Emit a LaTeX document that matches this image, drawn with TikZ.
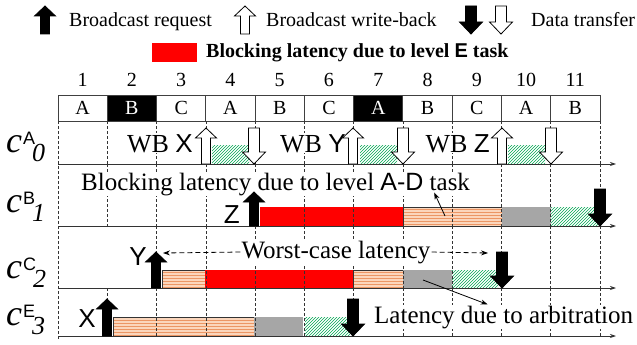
\documentclass[tikz,border=0pt]{standalone}
\usepackage{fontspec}
\setmainfont{Liberation Serif}
\setsansfont{Liberation Sans}
\usetikzlibrary{arrows.meta,patterns}
\definecolor{peach}{RGB}{251,214,188}
\definecolor{peachline}{RGB}{236,150,100}
\definecolor{hatchgreen}{RGB}{0,165,80}
\definecolor{arbgray}{RGB}{166,166,166}
\newcommand{\fsz}[1]{\fontsize{#1}{#1}\selectfont}
\newcommand{\rowlab}[2]{{\fsz{36}\itshape c}\kern1pt\raisebox{8pt}{\fsz{18}\sffamily #1}\kern-3pt\raisebox{-9pt}{\fsz{26}\itshape #2}}
\newcommand{\uparr}[4]{\draw[line width=0.8pt,#4] (#1-4.5,#3) -- (#1-4.5,#2+10) -- (#1-10.5,#2+10) -- (#1,#2) -- (#1+10.5,#2+10) -- (#1+4.5,#2+10) -- (#1+4.5,#3) -- cycle;}
\newcommand{\downarr}[4]{\draw[line width=0.8pt,#4] (#1-5.5,#2) -- (#1-5.5,#3-12) -- (#1-11.5,#3-12) -- (#1,#3) -- (#1+11.5,#3-12) -- (#1+5.5,#3-12) -- (#1+5.5,#2) -- cycle;}
\begin{document}
\begin{tikzpicture}[x=1pt,y=-1pt,
  cell/.style={draw=black!75, line width=0.8pt, minimum width=49.27pt, minimum height=26pt, inner sep=0pt, font=\fsz{20}},
  num/.style={inner sep=0pt, font=\fsz{20}},
  slotline/.style={black!80, line width=0.6pt, dash pattern=on 3pt off 2pt},
  timeline/.style={black!80, line width=0.8pt, -{Stealth[length=6pt,width=4pt]}},
  lbl/.style={anchor=base west, inner sep=1pt, fill=white, font=\fsz{25}},
  tagtxt/.style={anchor=base east, inner sep=1pt, font=\fsz{26}\sffamily},
  rowname/.style={anchor=base west, inner sep=0pt},
  redbar/.style={fill=red},
  graybar/.style={fill=arbgray},
  peachbar/.style={fill=peach, postaction={pattern=horizontal lines, pattern color=peachline}},
  greenbar/.style={pattern=north east lines, pattern color=hatchgreen},
  pointer/.style={line width=0.8pt, -{Stealth[length=7pt,width=5pt]}},
  wcarrow/.style={pointer, dash pattern=on 5pt off 3pt}]
\useasboundingbox (0,0) rectangle (637,345);
\uparr{45}{6}{34}{fill=black}
\node[lbl, font=\fsz{20}] (lreq) at (68,27) {Broadcast request};
\uparr{245}{6}{34}{fill=white}
\node[lbl, font=\fsz{20}] (lwb) at (265,27) {Broadcast write-back};
\downarr{471}{6}{34}{fill=black}
\downarr{501}{6}{34}{fill=white}
\node[lbl, font=\fsz{20}] (ldt) at (530,27) {Data transfer};
\fill[red] (152,43) rectangle (197,62);
\node[lbl, font=\fsz{20}\bfseries] (lblk) at (205,58) {Blocking latency due to level {\sffamily E} task};
\foreach \l/\f/\t [count=\i] in {A/white/black,B/black/white,C/white/black,A/white/black,B/white/black,C/white/black,A/black/white,B/white/black,C/white/black,A/white/black,B/white/black}{
  \node[num] (n\i) at ({58+49.27*(\i-0.5)},80) {\i};
  \node[cell, fill=\f, text=\t] (s\i) at ({58+49.27*(\i-0.5)},108) {\l};
}
\node[rowname] (c0) at (6,152) {\rowlab{A}{0}};
\node[rowname] (c1) at (6,212) {\rowlab{B}{1}};
\node[rowname] (c2) at (6,278) {\rowlab{C}{2}};
\node[rowname] (c3) at (6,325) {\rowlab{E}{3}};
\fill[greenbar] (212,145) rectangle (249,164);
\fill[greenbar] (360,145) rectangle (397,164);
\fill[greenbar] (508,145) rectangle (545,164);
\fill[redbar] (260,207) rectangle (403,226);
\fill[peachbar] (403,207) rectangle (502,226);
\draw[black!80, line width=0.8pt] (403,207) rectangle (502,226);
\fill[graybar] (502,207) rectangle (551,226);
\fill[greenbar] (551,207) rectangle (598,226);
\fill[peachbar] (162,270) rectangle (205,288);
\draw[black!80, line width=0.8pt] (162,270) rectangle (205,288);
\fill[redbar] (205,270) rectangle (353,288);
\fill[peachbar] (353,270) rectangle (403,288);
\draw[black!80, line width=0.8pt] (353,270) rectangle (403,288);
\fill[graybar] (403,270) rectangle (452,288);
\fill[greenbar] (452,270) rectangle (498,288);
\fill[peachbar] (113,317) rectangle (254,336);
\draw[black!80, line width=0.8pt] (113,317) rectangle (254,336);
\fill[graybar] (254,317) rectangle (303,336);
\fill[greenbar] (305,317) rectangle (350,336);
\foreach \t/\b/\s in {121/164/1,164/226/1,226/288/2,288/336/1}
  \foreach \k in {\s,...,11}
    \draw[slotline] ({58+49.27*\k},\t) -- ({58+49.27*\k},\b);
\draw[slotline] (58,121) -- (58,340);
\draw[timeline] (58,164) -- (616,164);
\draw[timeline] (58,226) -- (616,226);
\draw[timeline] (58,288) -- (616,288);
\draw[timeline] (58,336) -- (616,336);
\node[lbl, font=\fsz{26}, anchor=base east] (wbx) at (194,152) {WB {\sffamily X}};
\node[lbl, font=\fsz{26}, anchor=base east] (wby) at (347,152) {WB {\sffamily Y}};
\node[lbl, font=\fsz{26}, anchor=base east] (wbz) at (491,152) {WB {\sffamily Z}};
\node[lbl] (blk) at (80,190) {Blocking latency due to level {\sffamily A-D} task};
\node[lbl, anchor=base] (wc) at (336,258) {Worst-case latency};
\node[lbl] (lat) at (373,323) {Latency due to arbitration};
\node[tagtxt] (tz) at (241,223) {Z};
\node[tagtxt] (ty) at (148,265) {Y};
\node[tagtxt] (tx) at (97,327) {X};
\coordinate (wcl) at (163,253);
\coordinate (wcr) at (488,253);
\coordinate (pch) at (445,216);
\coordinate (arb) at (423,280);
\draw[wcarrow] (wc.west) -- (wcl);
\draw[wcarrow] (wc.east) -- (wcr);
\draw[pointer] (pch) -- ([xshift=-37pt,yshift=4pt]blk.south east);
\draw[pointer] (arb) -- ([xshift=-16pt]lat.north);
\uparr{206}{128}{164}{fill=white}
\downarr{254}{128}{164}{fill=white}
\uparr{353}{128}{164}{fill=white}
\downarr{403}{128}{164}{fill=white}
\uparr{502}{128}{164}{fill=white}
\downarr{551}{128}{164}{fill=white}
\uparr{254}{192}{226}{fill=black}
\downarr{600}{189}{226}{fill=black}
\uparr{156}{252}{288}{fill=black}
\downarr{502}{252}{288}{fill=black}
\uparr{107}{299}{336}{fill=black}
\downarr{353}{299}{336}{fill=black}
\end{tikzpicture}
\end{document}
